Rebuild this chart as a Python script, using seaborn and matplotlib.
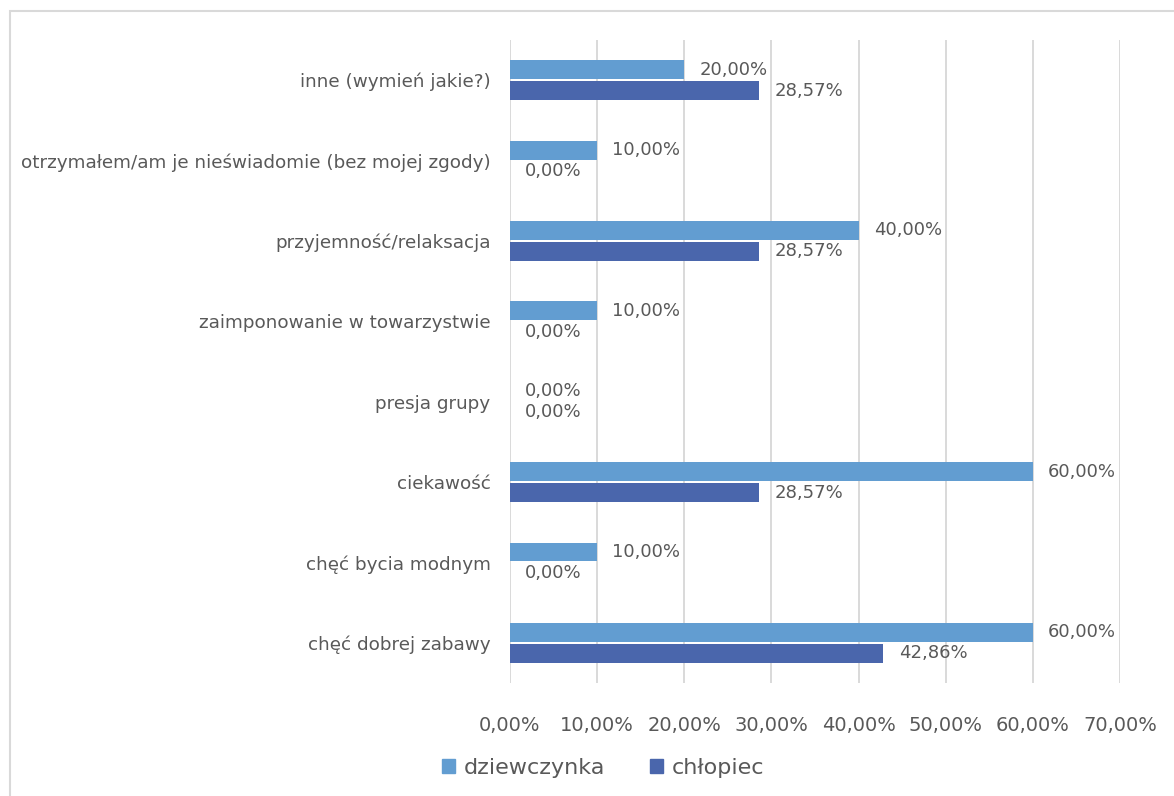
import matplotlib
matplotlib.use("Agg")
import matplotlib.pyplot as plt
import matplotlib.patches as mpatches
import pandas as pd
import seaborn as sns

# Chart data (percent)
categories = [
    "inne (wymień jakie?)",
    "otrzymałem/am je nieświadomie (bez mojej zgody)",
    "przyjemność/relaksacja",
    "zaimponowanie w towarzystwie",
    "presja grupy",
    "ciekawość",
    "chęć bycia modnym",
    "chęć dobrej zabawy",
]
series = ["dziewczynka", "chłopiec"]
girls = [20.00, 10.00, 40.00, 10.00, 0.00, 60.00, 10.00, 60.00]
boys = [28.57, 0.00, 28.57, 0.00, 0.00, 28.57, 0.00, 42.86]
x_ticks = [0, 10, 20, 30, 40, 50, 60, 70]

colors = {"dziewczynka": "#629DD1", "chłopiec": "#4A66AC"}
text_color = "#595959"
grid_color = "#D9D9D9"


def pct(v: float) -> str:
    """Format a value the way the source chart does (comma decimal)"""
    return f"{v:.2f}%".replace(".", ",")


def main() -> None:
    """Main function"""

    # Long-form table for seaborn
    df = pd.DataFrame({
        "category": categories * 2,
        "value": girls + boys,
        "series": [series[0]] * len(categories) + [series[1]] * len(categories),
    })

    sns.set_theme(style="white")
    plt.rcParams["font.family"] = ["DejaVu Sans"]

    fig = plt.figure(figsize=(11.74, 7.96), dpi=100)
    ax = fig.add_axes([510 / 1174, 1 - 683 / 796, 610 / 1174, 643 / 796])

    sns.barplot(
        data=df, y="category", x="value", hue="series",
        order=categories, hue_order=series, palette=colors, saturation=1,
        orient="h", width=0.52, gap=0.1, linewidth=0, ax=ax, legend=False,
    )

    # Data labels at the end of each bar
    for container, name in zip(ax.containers, series):
        for bar, v in zip(container, df.loc[df["series"] == name, "value"]):
            y = bar.get_y() + bar.get_height() / 2
            ax.annotate(
                pct(v), (bar.get_width(), y),
                xytext=(11, 0), textcoords="offset points",
                ha="left", va="center", fontsize=13, color=text_color,
            )

    # Axes styling
    ax.set_xlim(0, 70)
    ax.set_xticks(x_ticks)
    ax.set_xticklabels([pct(t) for t in x_ticks])
    ax.set_xlabel("")
    ax.set_ylabel("")
    ax.grid(axis="x", color=grid_color, linewidth=1.4)
    ax.grid(axis="y", visible=False)
    ax.set_axisbelow(True)
    for spine in ax.spines.values():
        spine.set_visible(False)
    ax.tick_params(axis="x", length=0, pad=24, labelsize=14, labelcolor=text_color)
    ax.tick_params(axis="y", length=0, pad=14, labelsize=13.2, labelcolor=text_color)

    # Legend
    handles = [mpatches.Patch(color=colors[s], label=s) for s in series]
    fig.legend(
        handles=handles, loc="center", bbox_to_anchor=(603 / 1174, 1 - 768 / 796),
        ncol=2, frameon=False, fontsize=16, labelcolor=text_color,
        handlelength=0.6, handleheight=0.6, handletextpad=0.4, columnspacing=2.0,
    )

    # Outer chart border
    fig.patches.append(mpatches.Rectangle(
        (10 / 1174, -0.1), 1.2, 1.1 - 11 / 796, transform=fig.transFigure,
        fill=False, edgecolor=grid_color, linewidth=1.5,
    ))

    fig.savefig("out.png", dpi=100)


if __name__ == "__main__":
    main()
